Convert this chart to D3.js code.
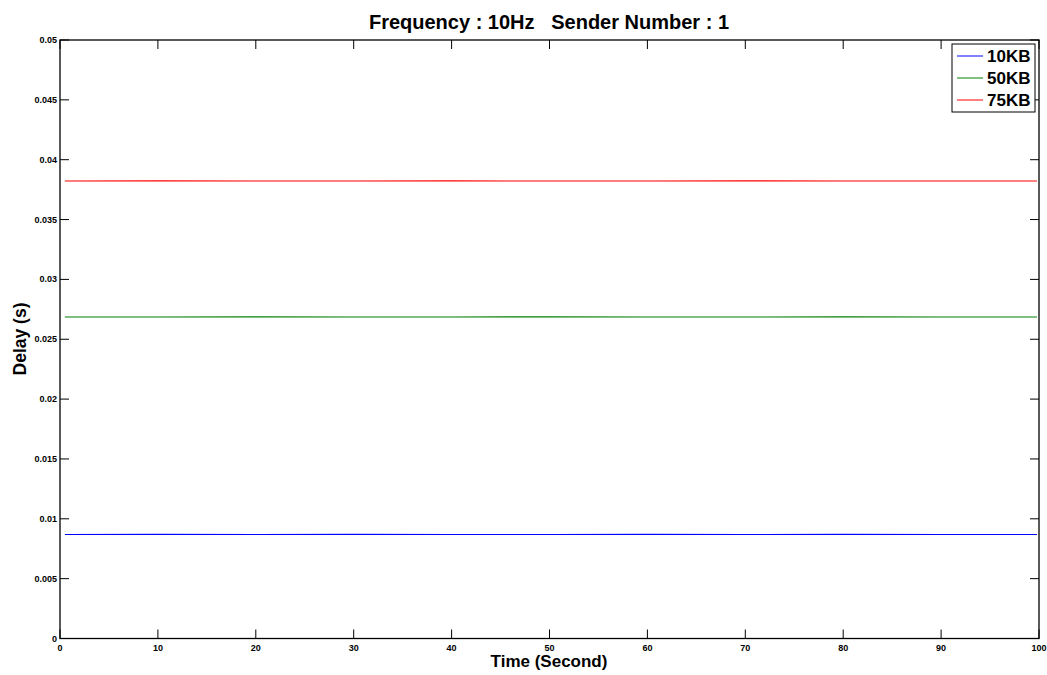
<!DOCTYPE html>
<meta charset="utf-8">
<style>
  body { margin: 0; background: #fff; }
  text { font-family: "Liberation Sans", Arial, sans-serif; }
</style>
<script src="https://d3js.org/d3.v7.min.js"></script>
<svg id="chart" width="1047" height="675"></svg>
<script>
// data
const times = [0.5, 10, 20, 30, 40, 50, 60, 70, 80, 90, 99.8];
const delay10 = [0.00869, 0.00870, 0.00869, 0.00870, 0.00869, 0.00869, 0.00870, 0.00869, 0.00870, 0.00869, 0.00869];
const delay50 = [0.02686, 0.02686, 0.02687, 0.02686, 0.02686, 0.02687, 0.02686, 0.02686, 0.02687, 0.02686, 0.02686];
const delay75 = [0.03822, 0.03823, 0.03822, 0.03822, 0.03823, 0.03822, 0.03822, 0.03823, 0.03822, 0.03822, 0.03822];
const seriesNames = ["10KB", "50KB", "75KB"];
const colors = ["#0000ff", "#008000", "#ff0000"];
const xTicks = [0, 10, 20, 30, 40, 50, 60, 70, 80, 90, 100];
const yTicks = [0, 0.005, 0.01, 0.015, 0.02, 0.025, 0.03, 0.035, 0.04, 0.045, 0.05];

const svg = d3.select("#chart");
const pLeft = 60, pRight = 1039, pTop = 40, pBottom = 638.5;

const x = d3.scaleLinear().domain([0, 100]).range([pLeft, pRight]);
const y = d3.scaleLinear().domain([0, 0.05]).range([pBottom, pTop]);

// tick marks on all sides, pointing inward
const tickLen = 9;
const ax = svg.append("g").attr("stroke", "#000").attr("stroke-width", 1);
xTicks.forEach(t => {
  ax.append("line").attr("x1", x(t)).attr("x2", x(t)).attr("y1", pBottom).attr("y2", pBottom - tickLen);
  ax.append("line").attr("x1", x(t)).attr("x2", x(t)).attr("y1", pTop).attr("y2", pTop + tickLen);
});
yTicks.forEach(t => {
  ax.append("line").attr("y1", y(t)).attr("y2", y(t)).attr("x1", pLeft).attr("x2", pLeft + tickLen);
  ax.append("line").attr("y1", y(t)).attr("y2", y(t)).attr("x1", pRight).attr("x2", pRight - tickLen);
});

// tick labels
svg.append("g").selectAll("text").data(xTicks).join("text")
  .attr("x", d => x(d)).attr("y", pBottom + 12)
  .attr("text-anchor", "middle")
  .attr("font-size", 9).attr("font-weight", "bold")
  .text(d => d);

svg.append("g").selectAll("text").data(yTicks).join("text")
  .attr("x", pLeft - 3).attr("y", d => y(d) + 3)
  .attr("text-anchor", "end")
  .attr("font-size", 9).attr("font-weight", "bold")
  .text(d => d);

// series
const allSeries = [delay10, delay50, delay75];
const line = d3.line().x((d, i) => x(times[i])).y(d => y(d));
svg.append("g").selectAll("path").data(allSeries).join("path")
  .attr("d", d => line(d))
  .attr("fill", "none")
  .attr("stroke", (d, i) => colors[i])
  .attr("stroke-width", 1.1);

// box
svg.append("rect")
  .attr("x", pLeft).attr("y", pTop)
  .attr("width", pRight - pLeft).attr("height", pBottom - pTop)
  .attr("fill", "none").attr("stroke", "#000").attr("stroke-width", 1.3);

// title and axis labels
svg.append("text").attr("x", 549).attr("y", 29)
  .attr("text-anchor", "middle").attr("font-size", 20).attr("font-weight", "bold")
  .attr("xml:space", "preserve")
  .text("Frequency : 10Hz   Sender Number : 1");

svg.append("text").attr("x", 549).attr("y", 667)
  .attr("text-anchor", "middle").attr("font-size", 17).attr("font-weight", "bold")
  .text("Time (Second)");

svg.append("text")
  .attr("transform", "translate(26,339) rotate(-90)")
  .attr("text-anchor", "middle").attr("font-size", 17.5).attr("font-weight", "bold")
  .text("Delay (s)");

// legend
const lg = svg.append("g");
lg.append("rect").attr("x", 952).attr("y", 44).attr("width", 83).attr("height", 68)
  .attr("fill", "#fff").attr("stroke", "#000").attr("stroke-width", 1);
seriesNames.forEach((n, i) => {
  const yy = 56 + i * 22;
  lg.append("line").attr("x1", 957).attr("x2", 983).attr("y1", yy).attr("y2", yy)
    .attr("stroke", colors[i]).attr("stroke-width", 1);
  lg.append("text").attr("x", 987).attr("y", yy + 6)
    .attr("font-size", 17).attr("font-weight", "bold")
    .text(n);
});
</script>
